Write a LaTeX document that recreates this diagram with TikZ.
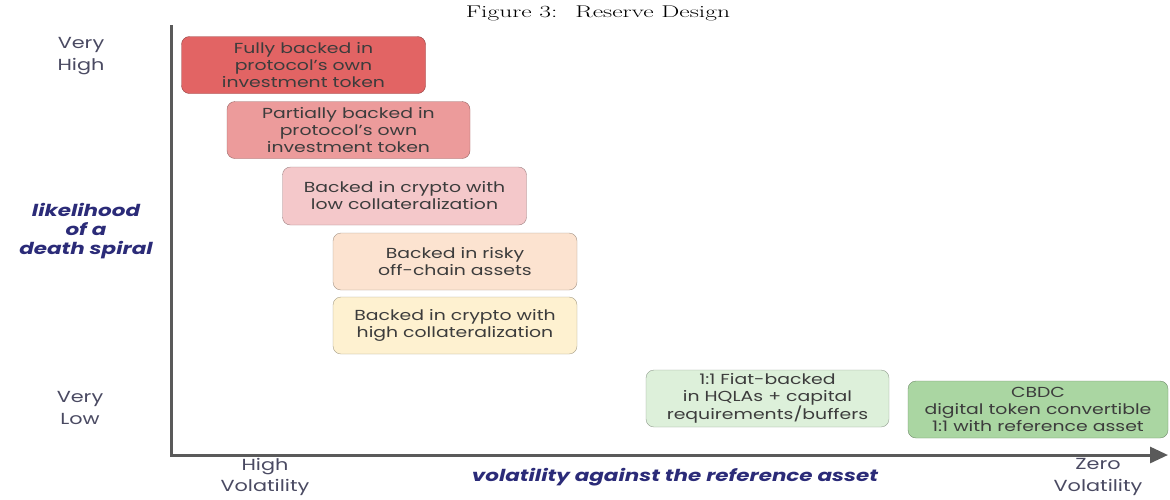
\documentclass[tikz,border=0pt]{standalone}
\usepackage{fontspec}
\setmainfont{Poppins}[FakeStretch=1.3]
\newfontfamily\captionfont{Latin Modern Roman}[FakeStretch=1.5]
\usepackage{tikz}
\usetikzlibrary{arrows.meta,positioning}
\definecolor{InkGray}{HTML}{3C3C3C}
\definecolor{AxisGray}{HTML}{5A5A5A}
\definecolor{TickGray}{HTML}{4A4A62}
\definecolor{SpiralNavy}{HTML}{2B2B78}
\definecolor{RiskRed}{HTML}{E26464}
\definecolor{RiskRose}{HTML}{EC9B9B}
\definecolor{RiskPink}{HTML}{F4C8CA}
\definecolor{RiskPeach}{HTML}{FCE3D0}
\definecolor{RiskCream}{HTML}{FEF1D0}
\definecolor{SafeMint}{HTML}{DDF0DA}
\definecolor{SafeGreen}{HTML}{AAD6A2}
\tikzset{
  reserve/.style={draw=#1!65!black, fill=#1, thin, rounded corners=8pt,
    align=center, minimum width=244pt, minimum height=57pt,
    text=InkGray, font=\fontsize{14.5}{17}\selectfont},
  ticklabel/.style={align=center, text=TickGray, font=\fontsize{16}{21.5}\selectfont},
  axistitle/.style={align=center, text=SpiralNavy,
    font=\fontsize{16.5}{19}\selectfont\bfseries\itshape},
  axis/.style={-{Triangle[length=18pt, width=16pt]}, line width=3pt, draw=AxisGray}
}
\begin{document}
\begin{tikzpicture}[x=1pt, y=-1pt]
  \useasboundingbox (0,0) rectangle (1170,499);
  \node[font=\captionfont\fontsize{17}{19}\selectfont] (caption) at (598,13) {Figure 3:~ Reserve Design};

  % axes
  \coordinate (ytop) at (171,25);
  \coordinate (xend) at (1168,455);
  \draw[axis] (ytop) |- (xend);

  % reserve designs, from most to least fragile
  \node[reserve=RiskRed] (fully) at (303.5,65) {Fully backed in\\protocol's own\\investment token};
  \node[reserve=RiskRose, minimum width=243pt] (partial) at (348.5,130) {Partially backed in\\protocol's own\\investment token};
  \node[reserve=RiskPink, minimum height=58pt] (cryptolow) at (404.5,196) {Backed in crypto with\\low collateralization};
  \node[reserve=RiskPeach] (offchain) at (455,261.5) {Backed in risky\\off-chain assets};
  \node[reserve=RiskCream] (cryptohigh) at (455,325.5) {Backed in crypto with\\high collateralization};
  \node[reserve=SafeMint, minimum width=243pt] (fiat) at (767.5,398.5) {1:1 Fiat-backed\\in HQLAs + capital\\requirements/buffers};
  \node[reserve=SafeGreen, minimum width=260pt] (cbdc) at (1038,409.5) {CBDC\\digital token convertible\\1:1 with reference asset};

  % vertical axis labels
  \node[ticklabel] (veryhigh) at (81,56) {Very\\High};
  \node[axistitle] (spiral) at (86,231) {likelihood\\of a\\death spiral};
  \node[ticklabel] (verylow) at (80,408) {Very\\Low};

  % horizontal axis labels
  \node[ticklabel] (highvol) at (265,477) {High\\Volatility};
  \node[axistitle] (volatility) at (675,477) {volatility against the reference asset};
  \node[ticklabel] (zerovol) at (1098,477) {Zero\\Volatility};
\end{tikzpicture}
\end{document}
